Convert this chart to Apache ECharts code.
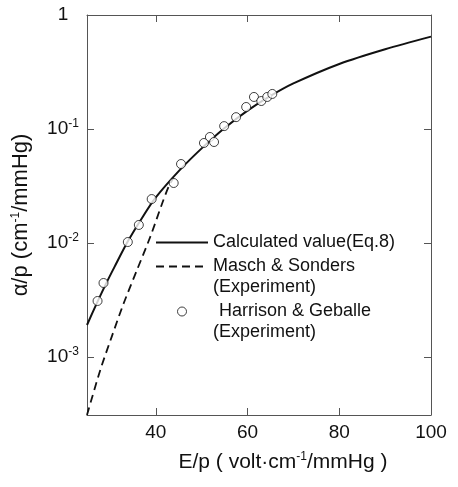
<!DOCTYPE html>
<html>
<head>
<meta charset="utf-8">
<script src="https://cdn.jsdelivr.net/npm/echarts@6/dist/echarts.min.js"></script>
<style>
  html, body { margin: 0; padding: 0; background: #fff; }
  #chart { width: 458px; height: 487px; }
</style>
</head>
<body>
<div id="chart"></div>
<script>
// calculated curve (Eq.8)
const calcX = [25, 27, 29, 31, 34, 37, 40, 45, 50, 55, 60, 65, 70, 80, 90, 100];
const calcY = [0.00191, 0.00288, 0.00427, 0.00617, 0.0105, 0.0166, 0.0251, 0.0427, 0.0676, 0.102, 0.145, 0.195, 0.251, 0.372, 0.501, 0.646];
// Masch & Sonders (dashed)
const maschX = [25, 27.9, 30.4, 33.0, 35.9, 38.8, 41.4, 42.8, 43.8];
const maschY = [0.00031, 0.00077, 0.00151, 0.00296, 0.0058, 0.01135, 0.0223, 0.0312, 0.037];
// Harrison & Geballe (circles)
const hgX = [27.3, 28.6, 33.9, 36.3, 39.1, 43.9, 45.5, 50.5, 51.8, 52.7, 54.9, 57.5, 59.7, 61.4, 63.0, 64.3, 65.4];
const hgY = [0.0031, 0.00446, 0.0102, 0.0144, 0.0243, 0.0336, 0.0493, 0.0754, 0.0851, 0.0769, 0.106, 0.127, 0.156, 0.191, 0.176, 0.191, 0.203];

const xLabels = [40, 60, 80, 100];
const xTicks = [40, 60, 80];
const yLabels = [1, 0.1, 0.01, 0.001];
const yTicks = [0.1, 0.01, 0.001];

const zip = (a, b) => a.map((v, i) => [v, b[i]]);
const font = 'Liberation Sans';
const ink = '#111';
const frame = '#555';

const chart = echarts.init(document.getElementById('chart'), null, { renderer: 'canvas' });

const supRich = {
  s: { fontSize: 12, fontFamily: font, color: ink, padding: [0, 0, 10, 0] }
};

const option = {
  animation: false,
  backgroundColor: '#fff',
  grid: { left: 87, right: 27, top: 15, bottom: 72 },
  legend: {
    left: 155,
    top: 232,
    orient: 'vertical',
    padding: 0,
    itemWidth: 52,
    itemHeight: 9,
    itemGap: -18,
    selectedMode: false,
    textStyle: {
      fontFamily: font, fontSize: 18, color: ink, lineHeight: 21,
      rich: {
        b: { fontSize: 18, lineHeight: 21 },
        t: { fontFamily: font, fontSize: 18, color: ink, lineHeight: 21 },
        h: { fontFamily: font, fontSize: 18, color: ink, lineHeight: 21, padding: [0, 0, 0, 6] }
      }
    },
    data: [
      { name: 'calc', itemStyle: { opacity: 0 } },
      { name: 'masch', itemStyle: { opacity: 0 } },
      { name: 'hg', itemStyle: { color: '#fff', borderColor: ink, borderWidth: 1 } }
    ],
    formatter: function (name) {
      if (name === 'calc') return '{t|Calculated value(Eq.8)}';
      if (name === 'masch') return '{b| }\n{t|Masch & Sonders}\n{t|(Experiment)}';
      return '{b| }\n{h|Harrison & Geballe}\n{t|(Experiment)}';
    }
  },
  xAxis: [{
    type: 'value',
    min: 25, max: 100,
    name: 'E/p ( volt·cm{s|-1}/mmHg )',
    nameLocation: 'middle',
    nameGap: 36,
    nameTextStyle: { fontFamily: font, fontSize: 21, color: ink, padding: [0, 0, 0, 48], rich: supRich },
    axisLine: { lineStyle: { color: frame, width: 1 } },
    axisTick: { inside: true, length: 7, customValues: xTicks, lineStyle: { color: frame } },
    axisLabel: {
      customValues: xLabels, margin: 8,
      fontFamily: font, fontSize: 19, color: ink
    },
    splitLine: { show: false }
  }, {
    type: 'value',
    position: 'top',
    min: 25, max: 100,
    axisLine: { lineStyle: { color: frame, width: 1 } },
    axisTick: { inside: true, length: 7, customValues: xTicks, lineStyle: { color: frame } },
    axisLabel: { show: false },
    splitLine: { show: false }
  }],
  yAxis: [{
    type: 'log',
    logBase: 10,
    min: 0.00031, max: 1,
    name: 'α/p (cm{s|-1}/mmHg)',
    nameLocation: 'middle',
    nameRotate: 90,
    nameGap: 55,
    nameTextStyle: { fontFamily: font, fontSize: 22, color: ink, rich: supRich },
    axisLine: { lineStyle: { color: frame, width: 1 } },
    axisTick: { inside: true, length: 7, customValues: yTicks, lineStyle: { color: frame } },
    axisLabel: {
      customValues: yLabels,
      margin: 24,
      align: 'center',
      fontFamily: font, fontSize: 19, color: ink,
      rich: { s: { fontSize: 12, fontFamily: font, color: ink, padding: [0, 0, 11, 0] } },
      formatter: function (v) {
        const e = Math.round(Math.log10(v));
        if (e === 0) return '1';
        return '10{s|' + e + '}';
      }
    },
    splitLine: { show: false }
  }, {
    type: 'log',
    logBase: 10,
    position: 'right',
    min: 0.00031, max: 1,
    axisLine: { lineStyle: { color: frame, width: 1 } },
    axisTick: { inside: true, length: 7, customValues: yTicks, lineStyle: { color: frame } },
    axisLabel: { show: false },
    splitLine: { show: false }
  }],
  series: [{
    name: 'calc',
    type: 'line',
    data: zip(calcX, calcY),
    smooth: 0.3,
    symbol: 'none',
    lineStyle: { color: ink, width: 2 },
    itemStyle: { color: ink },
    z: 3
  }, {
    name: 'masch',
    type: 'line',
    data: zip(maschX, maschY),
    smooth: 0.3,
    symbol: 'none',
    lineStyle: { color: ink, width: 1.8, type: [8, 5] },
    itemStyle: { color: ink },
    z: 2
  }, {
    name: 'hg',
    type: 'scatter',
    data: zip(hgX, hgY),
    symbol: 'circle',
    symbolSize: 9,
    itemStyle: { color: '#fff', borderColor: ink, borderWidth: 1 },
    z: 4
  }]
};

chart.setOption(option);
</script>
</body>
</html>
